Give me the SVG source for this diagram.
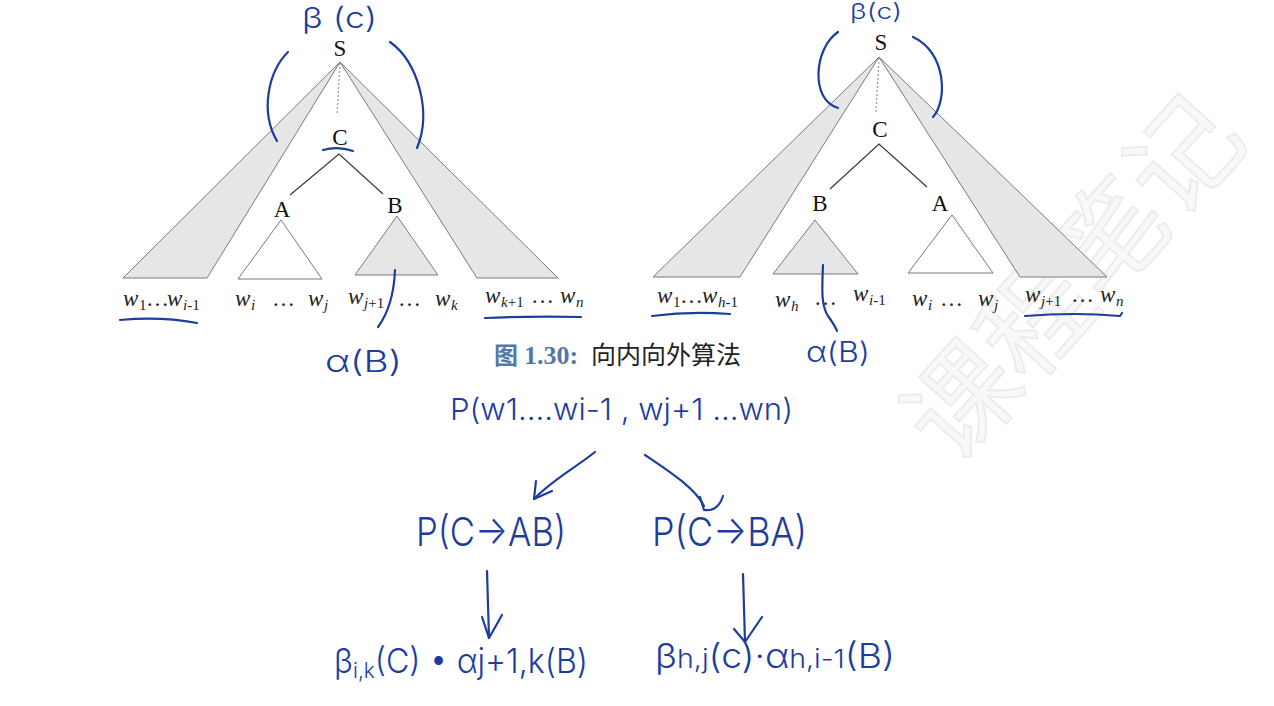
<svg xmlns="http://www.w3.org/2000/svg" width="1274" height="706" viewBox="0 0 1274 706">
<style>
.shade{fill:#e6e6e6;stroke:#7a7a7a;stroke-width:1;stroke-linejoin:miter}
.open{fill:#ffffff;stroke:#7a7a7a;stroke-width:1}
.edge{stroke:#333;stroke-width:1.1;fill:none}
.dot{stroke:#999;stroke-width:1.2;stroke-dasharray:2 2;fill:none}
.nt{font-family:"Liberation Serif","Times New Roman",serif;font-size:23px;fill:#111;text-anchor:middle}
.lab{font-family:"Liberation Serif","Times New Roman",serif;font-size:23px;fill:#222}
.w{font-style:italic}
.sub{font-size:15px}
.si{font-size:15px;font-style:italic}
.ink{stroke:#1c3d9e;stroke-width:2.2;fill:none;stroke-linecap:round;stroke-linejoin:round}
.hw{font-family:Inter,"Open Sans","Liberation Sans",sans-serif;font-weight:300;fill:#1c3d9e}
.wm{font-family:"Noto Sans CJK SC",sans-serif;font-size:110px;fill:#f8f8f8;stroke:#ececec;stroke-width:2}
</style>

<g id="watermark">
<text class="wm" transform="translate(955,468) rotate(-48)">课程笔记</text>
</g>

<g id="tree-left">
<g id="L-S"><text class="nt" x="340" y="56">S</text></g>
<g id="L-outer-left"><polygon class="shade" points="340,62 123,278 207,278"/></g>
<g id="L-outer-right"><polygon class="shade" points="340,62 477,278 558,278"/></g>
<g id="L-C"><text class="nt" x="340" y="145">C</text></g>
<g id="L-A"><text class="nt" x="282" y="217">A</text><polygon class="open" points="281,220 238,279 322,279"/></g>
<g id="L-B"><text class="nt" x="395" y="213">B</text><polygon class="shade" points="397,216 355,275 438,275"/></g>
<g id="L-words">
<text class="lab" y="306"><tspan class="w" x="123">w</tspan><tspan class="sub" x="139" dy="4">1</tspan><tspan x="146" dy="-4">…</tspan><tspan class="w" x="167">w</tspan><tspan class="si" x="183" dy="4">i</tspan><tspan class="sub">-1</tspan></text>
<text class="lab" y="306"><tspan class="w" x="235">w</tspan><tspan class="si" x="251" dy="4">i</tspan><tspan x="272" dy="-4">…</tspan><tspan class="w" x="308">w</tspan><tspan class="si" x="324" dy="4">j</tspan></text>
<text class="lab" y="304"><tspan class="w" x="348">w</tspan><tspan class="si" x="364" dy="4">j</tspan><tspan class="sub">+1</tspan><tspan x="398" dy="-2">…</tspan><tspan class="w" x="435">w</tspan><tspan class="si" x="451" dy="4">k</tspan></text>
<text class="lab" y="303"><tspan class="w" x="485">w</tspan><tspan class="si" x="501" dy="4">k</tspan><tspan class="sub">+1</tspan><tspan x="531" dy="-4">…</tspan><tspan class="w" x="560">w</tspan><tspan class="si" x="576" dy="4">n</tspan></text>
</g>
</g>

<g id="tree-right">
<g id="R-S"><text class="nt" x="881" y="50">S</text></g>
<g id="R-outer-left"><polygon class="shade" points="879,57 653,277 740,277"/></g>
<g id="R-outer-right"><polygon class="shade" points="879,57 1020,277 1107,277"/></g>
<g id="R-C"><text class="nt" x="880" y="137">C</text></g>
<g id="R-B"><text class="nt" x="820" y="211">B</text><polygon class="shade" points="815,220 773,274 858,274"/></g>
<g id="R-A"><text class="nt" x="940" y="211">A</text><polygon class="open" points="952,215 908,273 993,273"/></g>
<g id="R-words">
<text class="lab" y="303"><tspan class="w" x="657">w</tspan><tspan class="sub" x="673" dy="4">1</tspan><tspan x="680" dy="-4">…</tspan><tspan class="w" x="702">w</tspan><tspan class="si" x="718" dy="4">h</tspan><tspan class="sub">-1</tspan></text>
<text class="lab" y="307"><tspan class="w" x="775">w</tspan><tspan class="si" x="791" dy="4">h</tspan><tspan x="814" dy="-6">…</tspan></text>
<text class="lab" y="301"><tspan class="w" x="853">w</tspan><tspan class="si" x="869" dy="4">i</tspan><tspan class="sub">-1</tspan></text>
<text class="lab" y="306"><tspan class="w" x="912">w</tspan><tspan class="si" x="928" dy="4">i</tspan><tspan x="940" dy="-4">…</tspan><tspan class="w" x="978">w</tspan><tspan class="si" x="994" dy="4">j</tspan></text>
<text class="lab" y="302"><tspan class="w" x="1025">w</tspan><tspan class="si" x="1041" dy="4">j</tspan><tspan class="sub">+1</tspan><tspan x="1071" dy="-4">…</tspan><tspan class="w" x="1100">w</tspan><tspan class="si" x="1116" dy="4">n</tspan></text>
</g>
</g>

<g id="caption">
<text y="364" font-size="24"><tspan font-family="Noto Sans CJK SC,sans-serif" font-weight="bold" fill="#5577a8" x="494">图</tspan><tspan font-family="Liberation Serif,serif" font-weight="bold" font-size="26" fill="#5577a8" x="524">1.30:</tspan><tspan font-family="Noto Sans CJK SC,sans-serif" font-size="25" fill="#222" x="591">向内向外算法</tspan></text>
</g>

<g id="connectors">
<line class="dot" x1="340" y1="63" x2="337" y2="115"/>
<polyline class="edge" points="290,195 339,154 383,194"/>
<line class="dot" x1="879" y1="58" x2="876" y2="112"/>
<polyline class="edge" points="830,189 879,144 927,187"/>
</g>

<g id="annotations">
<text class="hw" x="302" y="28" font-size="29" textLength="75" lengthAdjust="spacingAndGlyphs">β (c)</text>
<path class="ink" d="M288,52 C268,72 260,112 277,141"/>
<path class="ink" d="M390,42 C418,62 432,112 417,148"/>
<path class="ink" d="M323,150 Q338,146 353,151"/>
<path class="ink" d="M120,320 Q160,316 197,323"/>
<path class="ink" d="M485,318 Q530,316 581,317"/>
<path class="ink" d="M395,270 C394,295 389,312 378,327"/>
<text class="hw" x="325" y="372" font-size="30" textLength="77" lengthAdjust="spacingAndGlyphs">α(B)</text>

<text class="hw" x="850" y="19" font-size="22" textLength="52" lengthAdjust="spacingAndGlyphs">β(c)</text>
<path class="ink" d="M838,32 C814,48 810,100 838,108"/>
<path class="ink" d="M913,37 C946,52 948,100 933,117"/>
<path class="ink" d="M652,316 Q690,311 730,314"/>
<path class="ink" d="M1025,316 Q1075,312 1120,316 L1122,313"/>
<path class="ink" d="M823,265 C822,290 821,305 828,316 C833,323 836,328 837,331"/>
<text class="hw" x="806" y="362" font-size="28" textLength="64" lengthAdjust="spacingAndGlyphs">α(B)</text>
</g>

<g id="notes">
<g id="n-p"><text class="hw" x="450" y="420" font-size="30" textLength="343" lengthAdjust="spacingAndGlyphs">P(w1....wi-1 , wj+1 ...wn)</text></g>
<g id="n-ab"><text class="hw" x="416" y="546" font-size="40" textLength="150" lengthAdjust="spacingAndGlyphs">P(C→AB)</text></g>
<g id="n-ba"><text class="hw" x="652" y="546" font-size="40" textLength="155" lengthAdjust="spacingAndGlyphs">P(C→BA)</text></g>
<g id="n-f1"><text class="hw" x="334" y="673" font-size="34" textLength="254" lengthAdjust="spacingAndGlyphs">β<tspan font-size="22" dy="5">i,k</tspan><tspan dy="-5">(C) • αj+1,k(B)</tspan></text></g>
<g id="n-f2"><text class="hw" x="655" y="668" font-size="34" textLength="240" lengthAdjust="spacingAndGlyphs">β<tspan font-size="26">h,j</tspan>(c)·α<tspan font-size="26">h,i-1</tspan>(B)</text></g>
</g>

<g id="note-arrows">
<path class="ink" d="M595,452 C575,468 552,480 534,499"/>
<path class="ink" d="M536,481 L534,499 L552,491"/>
<path class="ink" d="M645,455 C670,472 695,488 704,506"/>
<path class="ink" d="M700,497 L704,510 Q718,512 723,496"/>
<path class="ink" d="M487,571 L489,638"/>
<path class="ink" d="M482,617 L489,638 L502,615"/>
<path class="ink" d="M743,574 L745,642"/>
<path class="ink" d="M734,629 L745,642 L762,617"/>
</g>
</svg>
